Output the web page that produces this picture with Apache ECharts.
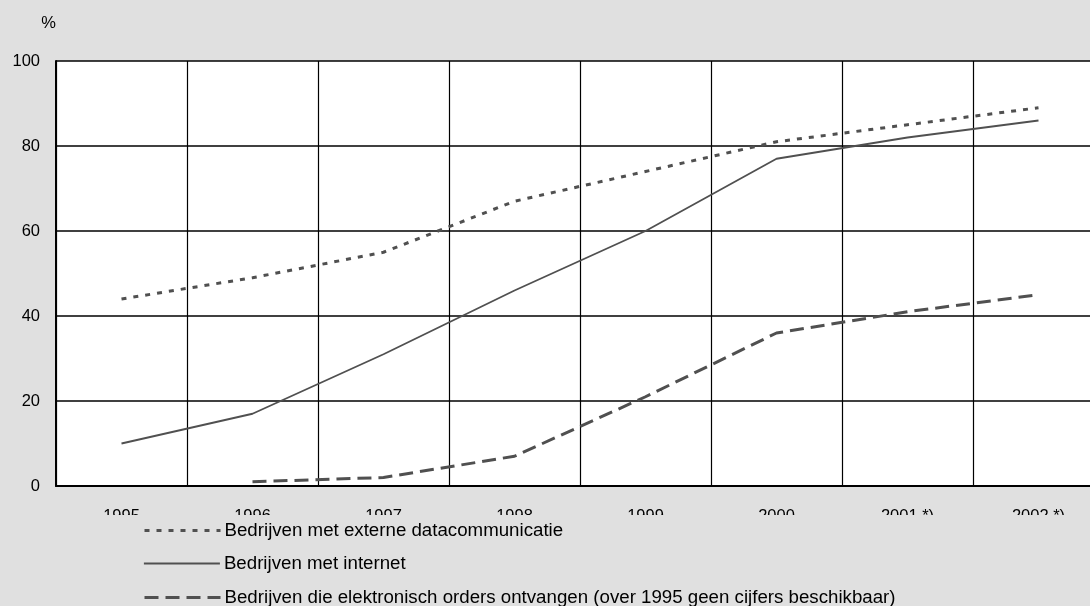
<!DOCTYPE html>
<html>
<head>
<meta charset="utf-8">
<script src="https://cdn.jsdelivr.net/npm/echarts@6/dist/echarts.min.js"></script>
<style>
  html, body { margin: 0; padding: 0; background: #e0e0e0; }
  #chart { width: 1090px; height: 606px; }
</style>
</head>
<body>
<div id="chart"></div>
<script>
const years = ['1995', '1996', '1997', '1998', '1999', '2000', '2001 *)', '2002 *)'];
const yTicks = [0, 20, 40, 60, 80, 100];
const seriesNames = [
  'Bedrijven met externe datacommunicatie',
  'Bedrijven met internet',
  'Bedrijven die elektronisch orders ontvangen (over 1995 geen cijfers beschikbaar)'
];
const externeData = [44, 49, 55, 67, 74, 81, 85, 89];
const internetData = [10, 17, 31, 46, 60, 77, 82, 86];
const ordersData = [null, 1, 2, 7, 21, 36, 41, 45];

const lineColor = '#505050';
const font = '"Liberation Sans", Arial, sans-serif';
const legendTops = [521, 554, 588];
const legendWidths = [3, 1.8, 3];

function makeLegend(i) {
  return {
    orient: 'vertical',
    left: 143,
    top: legendTops[i],
    z: 100,
    padding: 0,
    itemWidth: 76,
    itemHeight: 14,
    itemStyle: { opacity: 0, borderWidth: 0 },
    lineStyle: { width: legendWidths[i] },
    textStyle: { fontSize: 18.7, color: '#000', padding: [0, 0, 0, -1], fontFamily: font },
    data: [seriesNames[i]],
    selectedMode: false
  };
}

const chart = echarts.init(document.getElementById('chart'));
chart.setOption({
  backgroundColor: '#e0e0e0',
  animation: false,
  textStyle: { fontFamily: font },
  grid: {
    left: 56, top: 61, right: -14, bottom: 120,
    containLabel: false,
    outerBoundsMode: 'none',
    show: true, backgroundColor: '#ffffff', borderWidth: 0
  },
  xAxis: {
    type: 'category',
    data: years,
    boundaryGap: true,
    axisLine: { show: true, lineStyle: { color: '#000', width: 2 } },
    axisTick: { show: false },
    axisLabel: { interval: 0, fontSize: 16.5, color: '#000', margin: 22, fontFamily: font },
    splitLine: { show: true, interval: 0, lineStyle: { color: '#000', width: 1.2 } }
  },
  yAxis: {
    type: 'value',
    min: yTicks[0], max: yTicks[yTicks.length - 1], interval: 20,
    name: '%',
    nameLocation: 'end',
    nameGap: 38,
    nameTextStyle: { fontSize: 16.5, color: '#000', align: 'right', verticalAlign: 'middle', fontFamily: font },
    axisLine: { show: true, lineStyle: { color: '#000', width: 2 } },
    axisTick: { show: false },
    axisLabel: { fontSize: 16.5, color: '#000', margin: 16, fontFamily: font },
    splitLine: { show: true, lineStyle: { color: '#000', width: 1.5 } }
  },
  legend: [makeLegend(0), makeLegend(1), makeLegend(2)],
  graphic: {
    elements: [{
      type: 'rect',
      left: 0, top: 515, z: 50,
      shape: { width: 1090, height: 91 },
      style: { fill: '#e0e0e0' },
      silent: true
    }]
  },
  series: [
    {
      name: seriesNames[0], type: 'line', data: externeData,
      symbol: 'none',
      lineStyle: { color: lineColor, width: 3, type: [5, 7] },
      itemStyle: { color: lineColor }
    },
    {
      name: seriesNames[1], type: 'line', data: internetData,
      symbol: 'none',
      lineStyle: { color: lineColor, width: 1.8, type: 'solid' },
      itemStyle: { color: lineColor }
    },
    {
      name: seriesNames[2], type: 'line', data: ordersData,
      symbol: 'none',
      lineStyle: { color: lineColor, width: 3, type: [14, 7] },
      itemStyle: { color: lineColor }
    }
  ]
});
</script>
</body>
</html>
